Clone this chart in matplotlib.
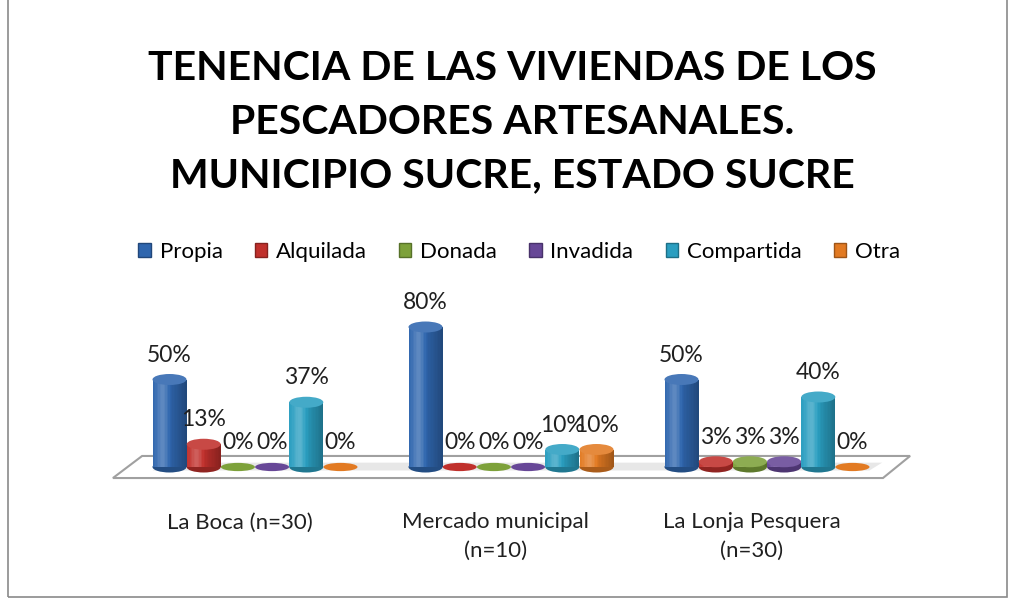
import matplotlib
matplotlib.use("Agg")
import matplotlib.pyplot as plt
import numpy as np
from matplotlib.patches import Rectangle, Ellipse, Polygon
from matplotlib.colors import to_rgb

categories = ["La Boca (n=30)", "Mercado municipal\n(n=10)", "La Lonja Pesquera\n(n=30)"]
series = ["Propia", "Alquilada", "Donada", "Invadida", "Compartida", "Otra"]
propia = [50, 80, 50]
alquilada = [13, 0, 3]
donada = [0, 0, 3]
invadida = [0, 0, 3]
compartida = [37, 10, 40]
otra = [0, 10, 0]
values = [propia, alquilada, donada, invadida, compartida, otra]
colors = ["#2F66AE", "#C0302C", "#7DA13A", "#674797", "#2A9EC0", "#E27A22"]
title = "TENENCIA DE LAS VIVIENDAS DE LOS\nPESCADORES ARTESANALES.\nMUNICIPIO SUCRE, ESTADO SUCRE"

W, H = 1014, 599
fig = plt.figure(figsize=(W / 100, H / 100), dpi=100)
plt.rcParams['font.family'] = ['Lato', 'DejaVu Sans']

# frame
fig.patches.append(Rectangle((8 / W, 2 / H), 999 / W, 600 / H, transform=fig.transFigure,
                             fill=False, edgecolor="#8a8a8a", lw=1.2))

ax = fig.add_axes([0, 0, 1, 1])
px_per_unit = 1.75
group_px = 256.0
base_px = 467  # from top
x0_px = 255
ax.set_xlim(-x0_px / group_px, (W - x0_px) / group_px)
ax.set_ylim(-(H - base_px) / px_per_unit, base_px / px_per_unit)
ax.axis("off")

bar_step = 34.2 / group_px
bar_w = 34 / group_px
ell_h = 11 / px_per_unit

# floor
floor = Polygon([(-0.555, -6.3), (-0.441, 6.3), (2.559, 6.3), (2.453, -6.3)], closed=True,
                facecolor="white", edgecolor="#a0a0a0", lw=1.5, zorder=1)
ax.add_patch(floor)
shadow = Polygon([(-0.40, -2.0), (-0.36, 2.5), (2.45, 2.5), (2.40, -2.0)], closed=True,
                 facecolor="#d8d8d8", edgecolor="none", alpha=0.6, zorder=1.1)
ax.add_patch(shadow)


def shade(c, f):
    r, g, b = to_rgb(c)
    if f >= 0:
        return (r + (1 - r) * f, g + (1 - g) * f, b + (1 - b) * f)
    return (r * (1 + f), g * (1 + f), b * (1 + f))


nstrip = 24
for si, (s, vals, col) in enumerate(zip(series, values, colors)):
    for gi, v in enumerate(vals):
        xc = gi + (si - 2.5) * bar_step
        left = xc - bar_w / 2
        z = 2 + si * 0.01
        if v > 0:
            ax.add_patch(Ellipse((xc, 0), bar_w, ell_h, facecolor=shade(col, -0.25), edgecolor="none", zorder=z))
            for k in range(nstrip):
                t = (k + 0.5) / nstrip
                f = 0.25 * np.exp(-((t - 0.3) / 0.18) ** 2) - 0.3 * t ** 2
                ax.add_patch(Rectangle((left + k * bar_w / nstrip, 0), bar_w / nstrip * 1.05, v,
                                       facecolor=shade(col, f), edgecolor="none", zorder=z))
            ax.add_patch(Ellipse((xc, v), bar_w, ell_h, facecolor=shade(col, 0.12), edgecolor="none", zorder=z + 0.005))
        else:
            ax.add_patch(Ellipse((xc, 0), bar_w, ell_h * 0.75, facecolor=col, edgecolor="none", zorder=z))
        ax.text(xc, v + 8, f"{v}%", ha="center", va="bottom", fontsize=16.5, color="#202020", zorder=5)

for gi, cat in enumerate(categories):
    ax.text(gi - 0.06, -26, cat, ha="center", va="top", fontsize=16, color="#202020", linespacing=1.5)

fig.text(0.505, 1 - 122 / H, title, ha="center", va="center", fontsize=29.5, fontweight="bold",
         linespacing=1.55, color="black")

handles = [Rectangle((0, 0), 1, 1, facecolor=c, edgecolor=shade(c, -0.3)) for c in colors]
fig.legend(handles, series, loc="center", bbox_to_anchor=(0.512, 1 - 252 / H), ncol=6, frameon=False,
           fontsize=16, handlelength=0.55, handleheight=0.55, handletextpad=0.4, columnspacing=1.45)

fig.savefig("out.png", dpi=100)
